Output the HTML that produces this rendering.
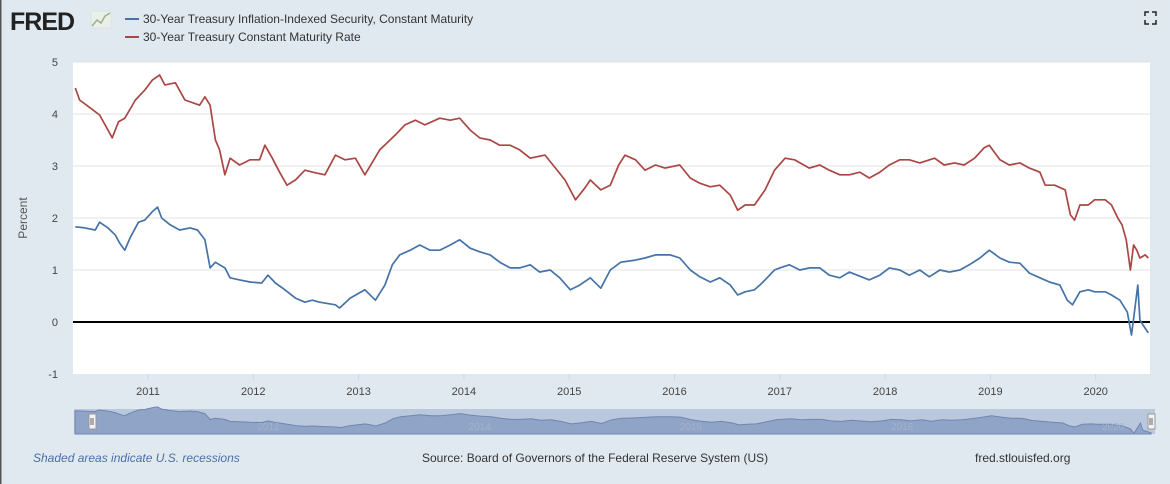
<!DOCTYPE html>
<html><head><meta charset="utf-8">
<style>
body{margin:0;width:1170px;height:484px;background:#e1e9f0;font-family:"Liberation Sans",sans-serif;overflow:hidden}
svg{display:block}
</style></head><body>
<svg id="c" width="1170" height="484">
<rect x="0" y="0" width="1170" height="484" fill="#e1e9f0"/>
<rect x="0" y="0" width="1.5" height="484" fill="#555"/>
<g>
<text x="10" y="30" font-size="25" font-weight="bold" fill="#222" font-family="Liberation Sans,sans-serif" letter-spacing="-1">FRED</text>
<rect x="91" y="11" width="20" height="17" fill="#e9efe9" stroke="#cdd" stroke-width="0.5"/>
<polyline points="92,26 97,20 101,23 105,16 110,13" fill="none" stroke="#9bb08a" stroke-width="1.5"/>
</g>
<g>
<line x1="125" y1="19" x2="139" y2="19" stroke="#4572a7" stroke-width="2"/>
<text x="143" y="23" font-size="12" fill="#333">30-Year Treasury Inflation-Indexed Security, Constant Maturity</text>
<line x1="125" y1="37" x2="139" y2="37" stroke="#aa4643" stroke-width="2"/>
<text x="143" y="41" font-size="12" fill="#333">30-Year Treasury Constant Maturity Rate</text>
</g>
<g stroke="#222" stroke-width="1.5" fill="none">
<path d="M1145,16 v-4 h4 M1152,12 h4 v4 M1156,20 v4 h-4 M1149,24 h-4 v-4"/>
</g>
<rect x="73" y="62" width="1077" height="312" fill="#fff"/>
<g id="grid"></g>
<g id="series"></g>
<g id="nav"></g>
<text x="27" y="218" font-size="12" fill="#555" transform="rotate(-90 27 218)" text-anchor="middle">Percent</text>
<text x="33" y="462" font-size="12" font-style="italic" fill="#4a6fa5">Shaded areas indicate U.S. recessions</text>
<text x="422" y="462" font-size="12" fill="#333">Source: Board of Governors of the Federal Reserve System (US)</text>
<text x="975" y="462" font-size="12" fill="#333">fred.stlouisfed.org</text>
</svg>
<script>
const yTicks=[-1,0,1,2,3,4,5];
const xTicks=[2011,2012,2013,2014,2015,2016,2017,2018,2019,2020];
const navTicks=[2012,2014,2016,2018,2020];
const nomDates=[2010.31,2010.35,2010.45,2010.54,2010.62,2010.66,2010.72,2010.78,2010.88,2010.97,2011.04,2011.11,2011.16,2011.26,2011.35,2011.49,2011.54,2011.59,2011.64,2011.68,2011.73,2011.78,2011.87,2011.97,2012.06,2012.11,2012.18,2012.25,2012.32,2012.40,2012.49,2012.59,2012.68,2012.78,2012.87,2012.97,2013.06,2013.20,2013.35,2013.44,2013.54,2013.63,2013.77,2013.87,2013.96,2014.06,2014.15,2014.25,2014.34,2014.44,2014.53,2014.63,2014.77,2014.87,2014.96,2015.06,2015.15,2015.20,2015.30,2015.39,2015.47,2015.53,2015.63,2015.72,2015.82,2015.91,2016.05,2016.15,2016.24,2016.34,2016.43,2016.53,2016.60,2016.67,2016.76,2016.86,2016.95,2017.05,2017.14,2017.28,2017.38,2017.47,2017.57,2017.66,2017.76,2017.85,2017.95,2018.04,2018.14,2018.23,2018.33,2018.47,2018.56,2018.66,2018.75,2018.85,2018.94,2018.99,2019.09,2019.18,2019.28,2019.37,2019.47,2019.52,2019.61,2019.71,2019.76,2019.80,2019.85,2019.93,2019.99,2020.09,2020.15,2020.21,2020.25,2020.29,2020.33,2020.36,2020.39,2020.42,2020.47,2020.50];
const nomValues=[4.50,4.27,4.12,3.98,3.69,3.54,3.85,3.92,4.27,4.46,4.65,4.75,4.56,4.60,4.27,4.17,4.33,4.17,3.50,3.31,2.83,3.15,3.02,3.12,3.12,3.40,3.15,2.88,2.63,2.73,2.92,2.87,2.83,3.21,3.12,3.15,2.83,3.31,3.60,3.79,3.88,3.79,3.92,3.88,3.92,3.69,3.54,3.50,3.40,3.40,3.31,3.15,3.21,2.96,2.73,2.35,2.58,2.73,2.54,2.63,3.02,3.21,3.12,2.92,3.02,2.96,3.02,2.77,2.67,2.60,2.63,2.44,2.15,2.25,2.25,2.54,2.92,3.15,3.12,2.96,3.02,2.92,2.83,2.83,2.88,2.77,2.88,3.02,3.12,3.12,3.06,3.15,3.02,3.06,3.02,3.15,3.35,3.40,3.12,3.02,3.06,2.96,2.88,2.63,2.63,2.54,2.06,1.96,2.25,2.25,2.35,2.35,2.25,2.00,1.87,1.58,1.00,1.48,1.38,1.23,1.29,1.23];
const tipsDates=[2010.31,2010.40,2010.50,2010.54,2010.62,2010.69,2010.73,2010.78,2010.83,2010.91,2010.97,2011.04,2011.09,2011.13,2011.21,2011.30,2011.40,2011.47,2011.54,2011.59,2011.64,2011.68,2011.73,2011.78,2011.87,2011.97,2012.08,2012.14,2012.21,2012.30,2012.40,2012.49,2012.56,2012.63,2012.78,2012.82,2012.92,2013.06,2013.16,2013.25,2013.32,2013.39,2013.49,2013.58,2013.68,2013.77,2013.87,2013.96,2014.06,2014.15,2014.25,2014.34,2014.44,2014.53,2014.63,2014.72,2014.82,2014.91,2015.01,2015.10,2015.20,2015.30,2015.39,2015.49,2015.63,2015.72,2015.82,2015.96,2016.05,2016.15,2016.24,2016.34,2016.43,2016.53,2016.60,2016.67,2016.76,2016.81,2016.86,2016.95,2017.00,2017.09,2017.19,2017.28,2017.38,2017.47,2017.57,2017.66,2017.85,2017.95,2018.04,2018.14,2018.23,2018.33,2018.42,2018.52,2018.61,2018.71,2018.80,2018.90,2018.99,2019.09,2019.18,2019.28,2019.37,2019.47,2019.56,2019.66,2019.73,2019.78,2019.85,2019.93,2019.99,2020.09,2020.15,2020.23,2020.30,2020.34,2020.37,2020.40,2020.42,2020.45,2020.48,2020.50];
const tipsValues=[1.83,1.81,1.77,1.92,1.81,1.67,1.52,1.38,1.62,1.92,1.96,2.12,2.21,2.00,1.87,1.77,1.81,1.77,1.58,1.04,1.15,1.10,1.04,0.85,0.81,0.77,0.75,0.90,0.75,0.62,0.46,0.38,0.42,0.38,0.33,0.27,0.46,0.62,0.42,0.71,1.10,1.29,1.38,1.48,1.38,1.38,1.48,1.58,1.42,1.35,1.29,1.15,1.04,1.04,1.10,0.96,1.00,0.85,0.62,0.71,0.85,0.65,1.00,1.15,1.19,1.23,1.29,1.29,1.23,1.00,0.87,0.77,0.85,0.71,0.52,0.58,0.62,0.71,0.81,1.00,1.04,1.10,1.00,1.04,1.04,0.90,0.85,0.96,0.81,0.90,1.04,1.00,0.90,1.00,0.87,1.00,0.96,1.00,1.10,1.23,1.38,1.23,1.15,1.13,0.94,0.85,0.77,0.71,0.42,0.33,0.58,0.62,0.58,0.58,0.52,0.42,0.19,-0.25,0.23,0.71,0.04,-0.06,-0.15,-0.21];

const NS='http://www.w3.org/2000/svg';
function mk(tag,attrs,parent){const e=document.createElementNS(NS,tag);for(const k in attrs)e.setAttribute(k,attrs[k]);parent.appendChild(e);return e;}
const X0=148,PXY=105.3;
const xs=d=>X0+(d-2011)*PXY;
const ys=v=>322-v*52;
const grid=document.getElementById('grid'),series=document.getElementById('series'),nav=document.getElementById('nav');
yTicks.forEach(t=>{
  if(t!==0&&t!==-1){const l=mk('line',{x1:73,x2:1150,y1:ys(t),y2:ys(t),stroke:'#e3e3e3','stroke-width':1},grid);
  
  }
  const tx=mk('text',{x:58,y:ys(t)+4,'font-size':11,fill:'#444','text-anchor':'end'},grid);
  tx.textContent=t;
  
  
});
xTicks.forEach(t=>{
  const l=mk('line',{x1:xs(t),x2:xs(t),y1:374,y2:380,stroke:'#ccd6eb'},grid);
  
  
  const tx=mk('text',{x:xs(t),y:395,'font-size':11,fill:'#444','text-anchor':'middle'},grid);
  tx.textContent=t;
  
  
});
function path(dates,vals,fx,fy){return dates.map((d,i)=>(i?'L':'M')+fx(d).toFixed(1)+','+fy(vals[i]).toFixed(1)).join('');}
const nomLine=mk('path',{d:path(nomDates,nomValues,xs,ys),fill:'none',stroke:'#aa4643','stroke-width':1.7,'stroke-linejoin':'round'},series);


const zero=mk('line',{x1:73,x2:1150,y1:ys(0),y2:ys(0),stroke:'#000','stroke-width':2},series);


const tipsLine=mk('path',{d:path(tipsDates,tipsValues,xs,ys),fill:'none',stroke:'#4572a7','stroke-width':1.7,'stroke-linejoin':'round'},series);


// navigator
const nx=d=>75+(d-2010.31)*105.6;
const ny=v=>430.5-v*10.7;
const bg=mk('rect',{x:74,y:409,width:1081,height:25,fill:'#b9c8dc'},nav);


const ad=path(tipsDates,tipsValues,nx,ny)+'L'+nx(tipsDates[tipsDates.length-1]).toFixed(1)+',434L'+nx(tipsDates[0]).toFixed(1)+',434Z';
const area=mk('path',{d:ad,fill:'#8ba0c4','fill-opacity':0.9,stroke:'#6f86b0','stroke-width':1},nav);


navTicks.forEach(t=>{const tx=mk('text',{x:nx(t)+15,y:430,'font-size':10,fill:'#a3b3c9','text-anchor':'middle'},nav);tx.textContent=t;

});
[[92],[1151]].forEach(([hx],i)=>{
  const h=mk('rect',{x:hx-3,y:414,width:7,height:15,fill:'#f2f2f2',stroke:'#999','stroke-width':1},nav);
  
  
  mk('line',{x1:hx-1,x2:hx-1,y1:418,y2:425,stroke:'#666'},nav);
  mk('line',{x1:hx+1,x2:hx+1,y1:418,y2:425,stroke:'#666'},nav);
});
</script>
</body></html>
